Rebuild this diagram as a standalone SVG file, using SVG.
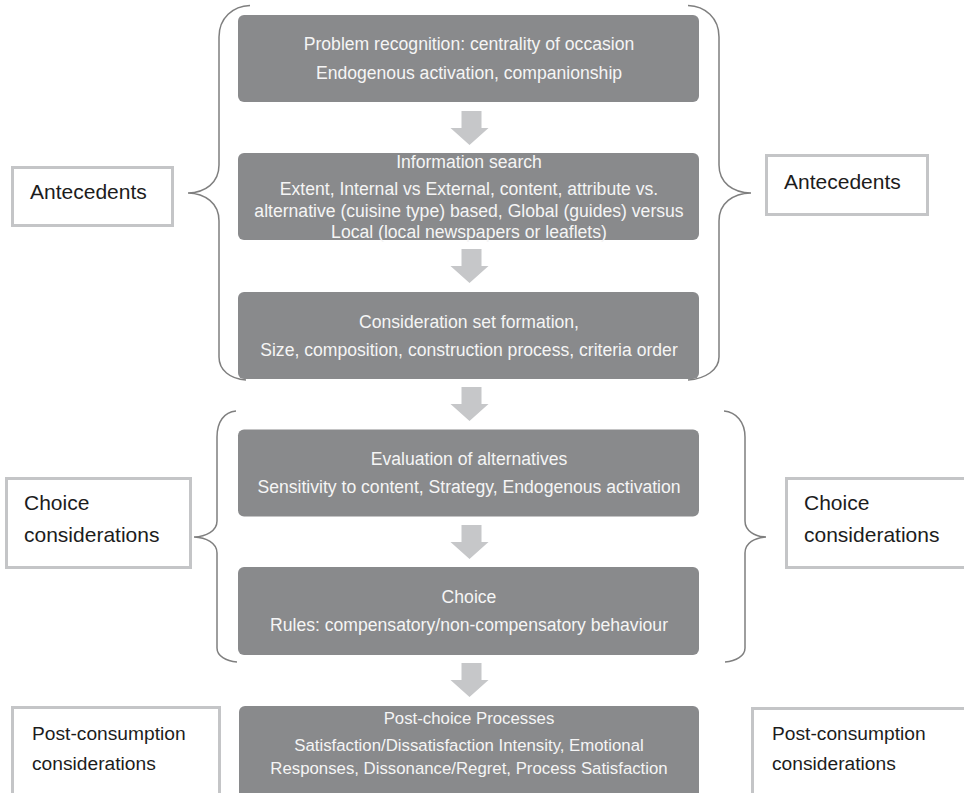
<svg xmlns="http://www.w3.org/2000/svg" width="964" height="793" viewBox="0 0 964 793">
<defs>
<style>
.step{fill:#898a8c}
.st{font-family:"Liberation Sans",Arial,sans-serif;font-size:17.6px;fill:#f5f5f5;text-anchor:middle}
.st6{font-size:16.8px}
.lbl{fill:#ffffff;stroke:#c4c5c7;stroke-width:3}
.lt{font-family:"Liberation Sans",Arial,sans-serif;font-size:21px;fill:#1c1c1c}
.lt2{font-size:19.2px}
.br{fill:none;stroke:#7f7f7f;stroke-width:1.5}
.arr{fill:#c6c7c9}
</style>
<path id="arrow" d="M -8 0 H 12 V 17 H 19 L 0 34 L -19 17 H -8 Z"/>
</defs>
<rect width="964" height="793" fill="#ffffff"/>

<g id="connectors">
  <use href="#arrow" class="arr" transform="translate(469.5,111)"/>
  <use href="#arrow" class="arr" transform="translate(469.5,249)"/>
  <use href="#arrow" class="arr" transform="translate(469.5,387)"/>
  <use href="#arrow" class="arr" transform="translate(469.5,525)"/>
  <use href="#arrow" class="arr" transform="translate(469.5,663)"/>
</g>

<g id="brackets">
  <path class="br" d="M 250 5.5 C 233 6, 219 18, 219 37 L 219 165 C 219 183, 205 192.5, 188 193 C 205 193.5, 219 203, 219 221 L 219 357 C 219 370, 230 379, 246 380"/>
  <path class="br" d="M 688 5.5 C 705 6, 719 18, 719 37 L 719 165 C 719 183, 733 192.5, 751 193 C 733 193.5, 719 203, 719 221 L 719 357 C 719 370, 705 379, 688 380"/>
  <path class="br" d="M 236 411 C 224 412, 217 422, 217 437 L 217 521 C 217 531, 206 536.5, 194 537 C 206 537.5, 217 543, 217 553 L 217 648 C 217 656, 226 661, 237 662"/>
  <path class="br" d="M 724 411 C 736 412, 745 422, 745 437 L 745 521 C 745 531, 755 536.5, 766 537 C 755 537.5, 745 543, 745 553 L 745 648 C 745 656, 736 661, 725 662"/>
</g>

<g id="step1">
  <rect class="step" x="238" y="15" width="461" height="87" rx="6"/>
  <text class="st" x="469" y="50">Problem recognition: centrality of occasion</text>
  <text class="st" x="469" y="79">Endogenous activation, companionship</text>
</g>
<g id="step2">
  <rect class="step" x="238" y="153" width="461" height="87" rx="6"/>
  <text class="st" x="469" y="168">Information search</text>
  <text class="st" x="469" y="195">Extent, Internal vs External, content, attribute vs.</text>
  <text class="st" x="469" y="216.5">alternative (cuisine type) based, Global (guides) versus</text>
  <text class="st" x="469" y="238">Local (local newspapers or leaflets)</text>
</g>
<g id="step3">
  <rect class="step" x="238" y="292" width="461" height="87" rx="6"/>
  <text class="st" x="469" y="328">Consideration set formation,</text>
  <text class="st" x="469" y="356">Size, composition, construction process, criteria order</text>
</g>
<g id="step4">
  <rect class="step" x="238" y="429.5" width="461" height="87" rx="6"/>
  <text class="st" x="469" y="465">Evaluation of alternatives</text>
  <text class="st" x="469" y="493">Sensitivity to content, Strategy, Endogenous activation</text>
</g>
<g id="step5">
  <rect class="step" x="238" y="567" width="461" height="88" rx="6"/>
  <text class="st" x="469" y="603">Choice</text>
  <text class="st" x="469" y="631">Rules: compensatory/non-compensatory behaviour</text>
</g>
<g id="step6">
  <rect class="step" x="239" y="706" width="460" height="100" rx="6"/>
  <text class="st st6" x="469" y="724">Post-choice Processes</text>
  <text class="st st6" x="469" y="751">Satisfaction/Dissatisfaction Intensity, Emotional</text>
  <text class="st st6" x="469" y="774">Responses, Dissonance/Regret, Process Satisfaction</text>
</g>

<g id="antecedents-left">
  <rect class="lbl" x="12.5" y="167.5" width="160" height="58"/>
  <text class="lt" x="30" y="199">Antecedents</text>
</g>
<g id="antecedents-right">
  <rect class="lbl" x="766.5" y="155.5" width="161" height="59"/>
  <text class="lt" x="784" y="189">Antecedents</text>
</g>
<g id="choice-left">
  <rect class="lbl" x="6.5" y="478.5" width="184" height="89"/>
  <text class="lt" x="24" y="510">Choice</text>
  <text class="lt" x="24" y="542">considerations</text>
</g>
<g id="choice-right">
  <rect class="lbl" x="786.5" y="478.5" width="200" height="89"/>
  <text class="lt" x="804" y="510">Choice</text>
  <text class="lt" x="804" y="542">considerations</text>
</g>
<g id="post-left">
  <rect class="lbl" x="12.5" y="707.5" width="207" height="100"/>
  <text class="lt lt2" x="32" y="740">Post-consumption</text>
  <text class="lt lt2" x="32" y="770">considerations</text>
</g>
<g id="post-right">
  <rect class="lbl" x="752.5" y="708.5" width="250" height="100"/>
  <text class="lt lt2" x="772" y="740">Post-consumption</text>
  <text class="lt lt2" x="772" y="770">considerations</text>
</g>
</svg>
